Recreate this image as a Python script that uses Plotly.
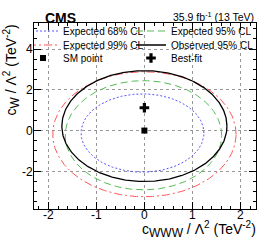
import plotly.graph_objects as go
import numpy as np

# Contour parameters (ellipse fits)
contour_names = ["Expected 68% CL", "Expected 95% CL", "Expected 99% CL", "Observed 95% CL"]
center_x = [-0.04, -0.02, 0.0, 0.0]
center_y = [-0.12, -0.23, -0.18, 0.22]
semi_x = [1.28, 1.63, 1.91, 1.72]
semi_y = [1.92, 2.68, 3.07, 2.72]
colors = ["#5555ff", "#55bb55", "#ff5555", "#000000"]
dashes = ["2px,2px", "7px,4px", "8px,3px,2px,3px", "solid"]
widths = [1, 1, 1, 1.3]

sm_point = (0.0, 0.0)
best_fit = (0.0, 1.12)

x_ticks = [-2, -1, 0, 1, 2]
y_ticks = [-2, 0, 2, 4]

font = "Liberation Sans, Arial, sans-serif"
PW, PH = 222, 186  # plot area pixels
def px(xp):
    return (xp - 34) / PW
def py(yp):
    return (209 - yp) / PH

# legend slots: (legend id, left pixel, row-centre pixel, indentation)
slots = [("legend2", 34, 31, -11), ("legend3", 131, 31, 0),
         ("legend4", 34, 45, -11), ("legend5", 131, 45, 0),
         ("legend6", 34, 58, -11), ("legend7", 131, 58, 0)]
legend_for = {"Expected 68% CL": 0, "Expected 95% CL": 1, "Expected 99% CL": 2,
              "Observed 95% CL": 3, "SM point": 4, "Best-fit": 5}

fig = go.Figure()
t = np.linspace(0, 2 * np.pi, 361)
for i in range(4):
    fig.add_trace(go.Scatter(
        x=center_x[i] + semi_x[i] * np.cos(t),
        y=center_y[i] + semi_y[i] * np.sin(t),
        mode="lines", name=contour_names[i], legend=slots[legend_for[contour_names[i]]][0],
        line=dict(color=colors[i], dash=dashes[i], width=widths[i]),
    ))
fig.add_trace(go.Scatter(x=[sm_point[0]], y=[sm_point[1]], mode="markers", name="SM point",
                         legend=slots[4][0], marker=dict(symbol="square", size=6, color="black")))
fig.add_trace(go.Scatter(x=[best_fit[0]], y=[best_fit[1]], mode="markers", name="Best-fit",
                         legend=slots[5][0], marker=dict(symbol="cross", size=8, color="black")))

axis_common = dict(
    showline=True, linecolor="black", linewidth=1, mirror="ticks",
    ticks="inside", tickcolor="black", tickwidth=1, ticklen=7,
    showgrid=True, gridcolor="#999999", griddash="dot", gridwidth=1,
    zeroline=False, tickfont=dict(family=font, size=12, color="black"),
)
fig.update_xaxes(range=[-2.3, 2.325], tickvals=x_ticks, ticktext=[str(v) for v in x_ticks],
                 ticklabelstandoff=-5,
                 minor=dict(dtick=0.2, tick0=0, ticks="inside", ticklen=3, tickcolor="black", showgrid=False),
                 **axis_common)
fig.update_yaxes(range=[-3.85, 5.28], tickvals=y_ticks, ticktext=[str(v) for v in y_ticks],
                 ticklabelstandoff=-2,
                 minor=dict(dtick=0.5, tick0=0, ticks="inside", ticklen=3, tickcolor="black", showgrid=False),
                 **axis_common)

legends = {}
for name, xl, yc, ind in slots:
    legends[name] = dict(
        orientation="v", x=px(xl), y=py(yc), xanchor="left", yanchor="middle",
        font=dict(family=font, size=10, color="black"), indentation=ind,
        bgcolor="rgba(0,0,0,0)", itemwidth=30, tracegroupgap=0,
    )

sub = lambda s: "<sub><span style='font-size:12px'>%s</span></sub>" % s
sup = lambda s: "<sup><span style='font-size:10px'>%s</span></sup>" % s

fig.update_layout(
    width=266, height=241,
    margin=dict(l=34, r=10, t=23, b=32, autoexpand=False),
    paper_bgcolor="white", plot_bgcolor="white",
    font=dict(family=font, color="black"),
    **legends,
    annotations=[
        dict(text="<b>CMS</b>", xref="paper", yref="paper", x=px(43), y=py(17.5),
             xanchor="left", yanchor="middle", showarrow=False, font=dict(family=font, size=14)),
        dict(text="35.9 fb<sup>-1</sup> (13 TeV)", xref="paper", yref="paper", x=px(256), y=py(16),
             xanchor="right", yanchor="middle", showarrow=False, font=dict(family=font, size=10.5)),
        dict(text="c" + sub("W") + " / Λ" + sup("2") + " (TeV" + sup("-2") + ")", xref="paper", yref="paper",
             x=px(12), y=py(23), xanchor="center", yanchor="top", textangle=-90,
             showarrow=False, font=dict(family=font, size=14)),
        dict(text="c" + sub("WWW") + " / Λ" + sup("2") + " (TeV" + sup("-2") + ")", xref="paper", yref="paper",
             x=px(257), y=py(241), xanchor="right", yanchor="bottom", borderpad=0,
             showarrow=False, font=dict(family=font, size=14)),
    ],
)
fig.write_html("out.html", config={"displayModeBar": False},
               post_script="document.body.style.margin='0';")
